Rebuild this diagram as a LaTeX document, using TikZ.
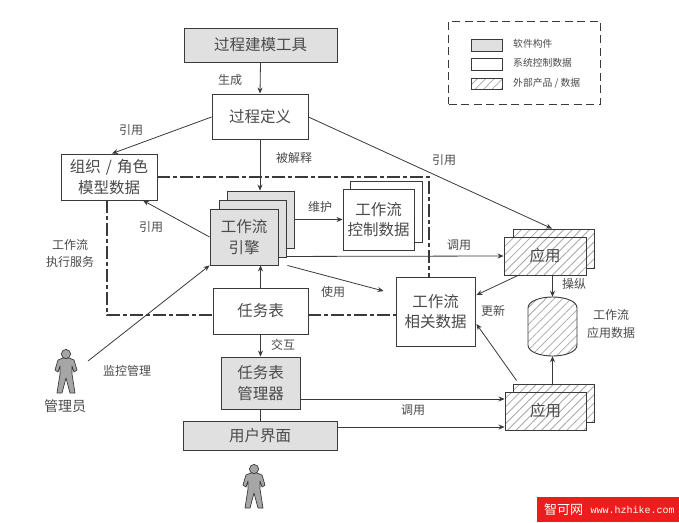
\documentclass[tikz,border=0pt]{standalone}
\usepackage{fontspec}
\setmainfont{Noto Sans CJK SC}
\newfontfamily\webmono{Liberation Mono}
\usetikzlibrary{arrows.meta,patterns.meta,calc}
\definecolor{ink}{HTML}{3A3A3A}
\definecolor{txt}{HTML}{4A4A4A}
\definecolor{softgray}{HTML}{E0E0E0}
\definecolor{hatchc}{HTML}{A8A8A8}
\definecolor{badge}{HTML}{EE1C1C}
\tikzset{
  base/.style={draw=ink,line width=.9pt,inner sep=0pt,align=center,text=txt,font=\fontsize{15.5}{20.5}\selectfont,fill=white},
  softbox/.style={base,fill=softgray},
  sysbox/.style={base},
  extbox/.style={base,preaction={pattern={Lines[angle=45,distance=6pt,line width=.8pt]},pattern color=hatchc},fill=none},
  plainbox/.style={inner sep=0pt,align=center},
  lbl/.style={inner sep=0pt,text=txt,align=center,font=\fontsize{12}{17.5}\selectfont},
  leglbl/.style={inner sep=0pt,anchor=west,text=txt,font=\fontsize{9.8}{12}\selectfont},
  flow/.style={draw=ink,line width=.8pt,-{Stealth[length=6pt,width=5pt]}},
  link/.style={draw=ink,line width=.8pt},
  boundary/.style={draw=ink,line width=1.3pt,dash pattern=on 13pt off 3pt on 4pt off 3pt},
  legendframe/.style={draw=ink,line width=1pt,dash pattern=on 8pt off 4.5pt},
  figure/.style={draw=ink,line width=.7pt,fill=gray!70,line join=round},
}
% name, x1, y1, x2, y2, style, text
\newcommand\bx[7]{%
  \pgfmathsetmacro\bxw{#4-#2}\pgfmathsetmacro\bxh{#5-#3}%
  \pgfmathsetmacro\bxx{(#2+#4)/2}\pgfmathsetmacro\bxy{(#3+#5)/2}%
  \node[#6,minimum width=\bxw pt,minimum height=\bxh pt,text width=\bxw pt] (#1) at (\bxx,\bxy) {#7};}
\newcommand\personfig[2]{%
  \begin{scope}[shift={(#1,#2)}]
    \draw[figure] (-3,4) -- (-8,6) -- (-11,16) -- (-8,18) -- (-6,12) -- (-6,20) -- (-9,39) -- (-4,39) -- (0,24) -- (4,39) -- (9,39) -- (6,20) -- (6,12) -- (8,18) -- (11,16) -- (8,6) -- (3,4) -- cycle;
    \draw[figure] (0,0) circle (4.6);
  \end{scope}}
\begin{document}
\begin{tikzpicture}[x=1pt,y=-1pt]
\useasboundingbox (0,0) rectangle (679,522);
\fill[white] (0,0) rectangle (679,522);

% nodes that the boundary line meets
\bx{model}{184}{28}{337}{62}{softbox}{过程建模工具}
\bx{procdef}{212}{94}{308}{139}{sysbox}{过程定义}
\bx{org}{61}{154}{157}{200}{sysbox}{组织 / 角色\\模型数据}
\bx{tasklist}{213}{288}{308}{334}{sysbox}{任务表}
\bx{reldata}{396}{277}{475}{346}{sysbox}{工作流\\相关数据}

% workflow boundary
\draw[boundary] (org.east) -- (429,177) -- (429,277);
\draw[boundary] (107,200) -- (107,315) -- ($(tasklist.west)+(0,4)$);
\draw[boundary] ($(tasklist.east)+(0,4)$) -- ($(reldata.west)+(0,3.5)$);

% stacked nodes
\bx{engineC}{227}{191}{294}{248}{softbox}{}
\bx{engineB}{219}{200}{286}{257}{softbox}{}
\bx{engine}{210}{209}{278}{265}{softbox}{工作流\\引擎}
\bx{ctrlB}{350}{181}{422}{242}{sysbox}{}
\bx{ctrl}{343}{189}{414}{250}{sysbox}{工作流\\控制数据}
\bx{appAb}{513}{229}{594}{268}{extbox}{}
\bx{appAw}{504}{237}{586}{275}{sysbox}{}
\bx{appA}{504}{237}{586}{275}{extbox}{应用}
\bx{appBb}{513}{384}{594}{422}{extbox}{}
\bx{appBw}{505}{392}{586}{430}{sysbox}{}
\bx{appB}{505}{392}{586}{430}{extbox}{应用}
\bx{manager}{221}{357}{300}{409}{softbox}{任务表\\管理器}
\bx{ui}{183}{421}{337}{450}{softbox}{用户界面}

% cylinder
\bx{cyl}{528}{297}{577}{356}{plainbox}{}
\path[draw=ink,line width=.9pt,preaction={pattern={Lines[angle=45,distance=6pt,line width=.8pt]},pattern color=hatchc}]
  (528,308) .. controls (528,301) and (540,297) .. (552.5,297) .. controls (565,297) and (577,301) .. (577,308)
  -- (577,345) .. controls (577,352) and (565,356) .. (552.5,356) .. controls (540,356) and (528,352) .. (528,345) -- cycle;

% persons
\personfig{66}{354}
\personfig{254}{469}
\coordinate (adminhand) at (88,361);

% connectors
\draw[flow] (model.south) -- (procdef.north);
\draw[flow] (procdef.south) -- (engineC.north -| procdef.south);
\draw[flow] ($(procdef.west)+(0,.5)$) -- ($(org.north)+(3,0)$);
\draw[flow] ($(procdef.east)+(0,.5)$) -- ($(appAb.north)+(-1.5,0)$);
\draw[flow] (engine.west) -- ($(org.south)+(34,0)$);
\draw[flow] (adminhand) -- (engine.south west);
\draw[flow] (tasklist.north) -- (engine.south -| tasklist.north);
\draw[flow] (tasklist.south) -- (manager.north -| tasklist.south);
\draw[link] (manager.south) -- (ui.north -| manager.south);
\draw[flow] ($(engineC.east |- ctrl.west)$) -- (ctrl.west);
\draw[flow] ($(engineB.south east)+(0,-1)$) -- (appA.west);
\draw[flow] ($(engine.south east)+(9,0)$) -- ($(reldata.west)+(-12,-20.5)$);
\draw[flow] ($(appA.south)+(-27,0)$) -- ($(reldata.east)+(1,-16.5)$);
\draw[flow] (appA.south -| cyl.north) -- (cyl.north);
\draw[flow] (appBb.north -| cyl.south) -- (cyl.south);
\draw[flow] ($(appBb.north west)+(4,-3)$) -- ($(reldata.east)+(1,12.5)$);
\draw[flow] ($(manager.east)+(0,16)$) -- ($(appB.west)+(0,-12)$);
\draw[flow] ($(ui.east)+(0,-8.5)$) -- ($(appB.west)+(0,16)$);

% labels
\node[lbl] (l1) at (230,80) {生成};
\node[lbl] (l2) at (131,130) {引用};
\node[lbl] (l3) at (294,158) {被解释};
\node[lbl] (l4) at (444,160) {引用};
\node[lbl] (l5) at (320,207) {维护};
\node[lbl] (l6) at (151,227) {引用};
\node[lbl] (l7) at (70,253.5) {工作流\\执行服务};
\node[lbl] (l8) at (459,245) {调用};
\node[lbl] (l9) at (333,292) {使用};
\node[lbl] (l10) at (574,284) {操纵};
\node[lbl] (l11) at (493,311) {更新};
\node[lbl] (l12) at (611,324) {工作流\\应用数据};
\node[lbl] (l13) at (283,345) {交互};
\node[lbl] (l14) at (127,371) {监控管理};
\node[lbl,font=\fontsize{14}{17}\selectfont] (l15) at (65,406) {管理员};
\node[lbl] (l16) at (413,410) {调用};

% legend
\bx{legend}{452}{21}{597}{104}{legendframe}{}
\bx{sw1}{471}{39}{502}{51}{softbox}{}
\bx{sw2}{471}{58}{502}{70}{sysbox}{}
\bx{sw3}{471}{78}{502}{89}{extbox}{}
\node[leglbl] (t1) at (513,44) {软件构件};
\node[leglbl] (t2) at (513,63) {系统控制数据};
\node[leglbl] (t3) at (513,83) {外部产品 / 数据};

% badge
\fill[badge] (537,497) rectangle (679,522);
\node[inner sep=0pt,text=white,font=\fontsize{13}{15}\selectfont] (wm1) at (563.5,509.5) {智可网};
\node[inner sep=0pt,text=white,font=\webmono\fontsize{10}{12}\selectfont] (wm2) at (632.5,509.5) {www.hzhike.com};
\end{tikzpicture}
\end{document}
